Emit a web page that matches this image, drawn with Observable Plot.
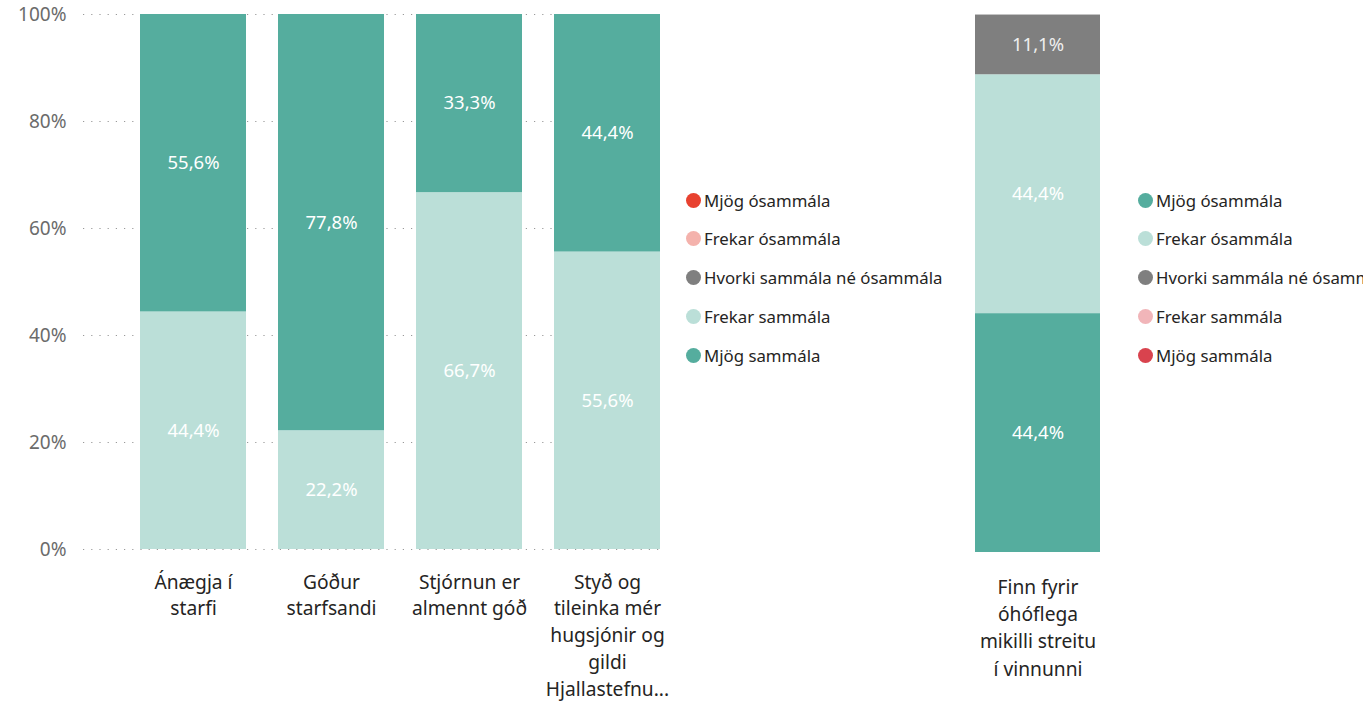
<!DOCTYPE html>
<html>
<head>
<meta charset="utf-8">
<script src="https://cdn.jsdelivr.net/npm/d3@7"></script>
<script src="https://cdn.jsdelivr.net/npm/@observablehq/plot@0.6"></script>
<style>
  body { margin: 0; background: #fff; font-family: "Noto Sans", sans-serif; }
  #wrap { position: relative; width: 1363px; height: 705px; overflow: hidden; }
  #wrap svg { position: absolute; top: 0; font-family: "Noto Sans", sans-serif; }
  .legend { position: absolute; font-size: 16.8px; color: #252423; }
  .legend .item { position: absolute; left: 0; white-space: nowrap; display: flex; align-items: center; height: 22px; }
  .legend .sw { width: 15px; height: 15px; border-radius: 50%; margin-right: 3px; flex: none; }
</style>
</head>
<body>
<div id="wrap"></div>
<script>
// ---- data ----
const leftCategories = ["Ánægja í starfi", "Góður starfsandi", "Stjórnun er almennt góð", "Styð og tileinka mér hugsjónir og gildi Hjallastefnu…"];
const leftTickLabels = ["Ánægja í\nstarfi", "Góður\nstarfsandi", "Stjórnun er\nalmennt góð", "Styð og\ntileinka mér\nhugsjónir og\ngildi\nHjallastefnu..."];
const leftFrekarSammala = [44.4, 22.2, 66.7, 55.6];
const leftMjogSammala = [55.6, 77.8, 33.3, 44.4];
const leftLegend = ["Mjög ósammála", "Frekar ósammála", "Hvorki sammála né ósammála", "Frekar sammála", "Mjög sammála"];
const leftLegendColors = ["#E8412F", "#F4B2AC", "#7F7F7F", "#BBDFD8", "#55AD9E"];

const rightCategories = ["Finn fyrir óhóflega mikilli streitu í vinnunni"];
const rightTickLabels = ["Finn fyrir\nóhóflega\nmikilli streitu\ní vinnunni"];
const rightMjogOsammala = [44.4];
const rightFrekarOsammala = [44.4];
const rightHvorki = [11.1];
const rightLegend = ["Mjög ósammála", "Frekar ósammála", "Hvorki sammála né ósammála", "Frekar sammála", "Mjög sammála"];
const rightLegendColors = ["#55AD9E", "#BBDFD8", "#7F7F7F", "#F1B5B9", "#D9434E"];

const yTicks = [0, 20, 40, 60, 80, 100];

const fmt = v => v.toFixed(1).replace(".", ",") + "%";
const wrap = document.getElementById("wrap");

// ---- left chart ----
const leftData = [];
leftCategories.forEach((c, i) => {
  leftData.push({cat: c, series: "Frekar sammála", value: leftFrekarSammala[i]});
  leftData.push({cat: c, series: "Mjög sammála", value: leftMjogSammala[i]});
});
const leftOrder = ["Frekar sammála", "Mjög sammála"];
const leftTickMap = new Map(leftCategories.map((c, i) => [c, leftTickLabels[i]]));

const left = Plot.plot({
  width: 680, height: 705,
  marginLeft: 83, marginRight: 15, marginTop: 14, marginBottom: 156,
  x: {domain: leftCategories, range: [139, 660.5], paddingInner: 0.235, paddingOuter: 0, axis: null},
  y: {domain: [0, 100], ticks: yTicks, tickFormat: d => d + "%", grid: false},
  color: {domain: leftLegend, range: leftLegendColors},
  marks: [
    Plot.gridY(yTicks, {stroke: "#999", strokeOpacity: 1, strokeDasharray: "1.2,7", strokeWidth: 1.2}),
    Plot.axisY(yTicks, {tickSize: 0, tickPadding: 17, fontSize: 19, fill: "#6b6b6b", tickFormat: d => d + "%", label: null}),
    Plot.barY(leftData, {x: "cat", y: "value", fill: "series", order: leftOrder}),
    Plot.text(leftData, Plot.stackY({x: "cat", y: "value", z: "series", order: leftOrder, text: d => fmt(d.value), fill: "#fff", fontSize: 18.5})),
    Plot.text(leftCategories, {x: d => d, y: () => 0, text: d => leftTickMap.get(d), lineAnchor: "top", dy: 20, lineHeight: 1.4, fontSize: 19.2, fill: "#252423"})
  ]
});
left.style.left = "0px";
wrap.appendChild(left);

// ---- right chart ----
const rightData = [];
rightCategories.forEach((c, i) => {
  rightData.push({cat: c, series: "Mjög ósammála", value: rightMjogOsammala[i]});
  rightData.push({cat: c, series: "Frekar ósammála", value: rightFrekarOsammala[i]});
  rightData.push({cat: c, series: "Hvorki sammála né ósammála", value: rightHvorki[i]});
});
const rightOrder = ["Mjög ósammála", "Frekar ósammála", "Hvorki sammála né ósammála"];
const rightTickMap = new Map(rightCategories.map((c, i) => [c, rightTickLabels[i]]));

const right = Plot.plot({
  width: 260, height: 705,
  marginLeft: 0, marginRight: 0, marginTop: 14, marginBottom: 153,
  x: {domain: rightCategories, range: [75, 200], paddingInner: 0, paddingOuter: 0, axis: null},
  y: {domain: [0, 100], axis: null},
  color: {domain: rightLegend, range: rightLegendColors},
  marks: [
    Plot.barY(rightData, {x: "cat", y: "value", fill: "series", order: rightOrder}),
    Plot.text(rightData, Plot.stackY({x: "cat", y: "value", z: "series", order: rightOrder, text: d => fmt(d.value),
      fill: d => d.series === "Hvorki sammála né ósammála" ? "#eeeeee" : "#fff",
      fontWeight: d => d.series === "Hvorki sammála né ósammála" ? "bold" : "normal",
      fontSize: 18.5})),
    Plot.text(rightCategories, {x: d => d, y: () => 0, text: d => rightTickMap.get(d), lineAnchor: "top", dy: 22, lineHeight: 1.42, fontSize: 19.2, fill: "#252423"})
  ]
});
right.style.left = "900px";
wrap.appendChild(right);

// ---- legends ----
function legend(labels, colors, x, y0) {
  const div = document.createElement("div");
  div.className = "legend";
  div.style.left = x + "px";
  div.style.top = "0px";
  labels.forEach((l, i) => {
    const it = document.createElement("div");
    it.className = "item";
    it.style.top = (y0 + i * 38.8 - 11) + "px";
    const sw = document.createElement("span");
    sw.className = "sw";
    sw.style.background = colors[i];
    const t = document.createElement("span");
    t.textContent = l;
    it.appendChild(sw); it.appendChild(t);
    div.appendChild(it);
  });
  wrap.appendChild(div);
}
legend(leftLegend, leftLegendColors, 686, 200);
legend(rightLegend, rightLegendColors, 1138, 200);
</script>
</body>
</html>
